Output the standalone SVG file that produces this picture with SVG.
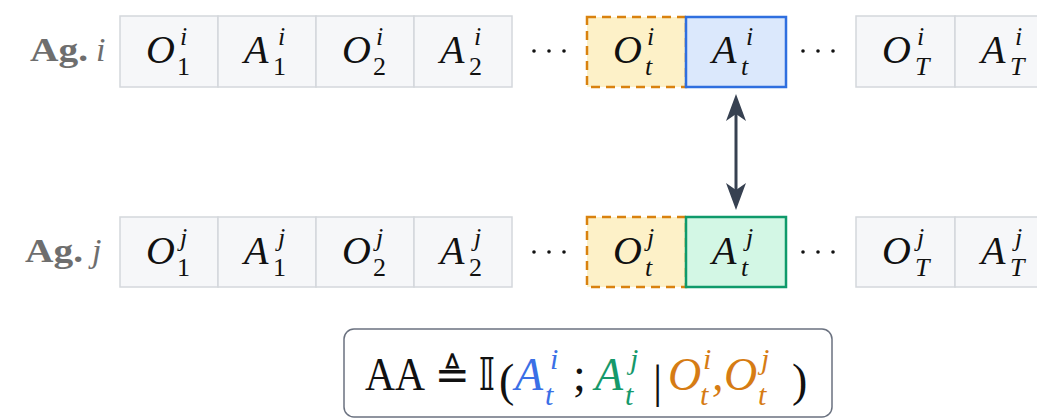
<svg xmlns="http://www.w3.org/2000/svg" width="1037" height="420" viewBox="0 0 1037 420">
<defs>
<style>
.cell{fill:#f6f7f9;stroke:#d4d7dc;stroke-width:1.5}
.obs{fill:#fdf1c8;stroke:#d9820f;stroke-width:2.5;stroke-dasharray:9 6}
.ai{fill:#dbe8fc;stroke:#2f6fdf;stroke-width:2.5}
.aj{fill:#d3f7e5;stroke:#0f9a6b;stroke-width:2.5}
.m{font-family:"Liberation Serif",serif;font-style:italic;font-size:40px;fill:#111}
.s{font-family:"Liberation Serif",serif;font-style:italic;font-size:26px;fill:#111}
.u{font-style:normal}
.lab{font-family:"Liberation Serif",serif;font-size:34px;fill:#6e6e6e}
.dot{fill:#111}
.f{font-family:"Liberation Serif",serif;font-size:46px;fill:#111}
.fi{font-family:"Liberation Serif",serif;font-style:italic;font-size:46px}
.fs{font-family:"Liberation Serif",serif;font-style:italic;font-size:30px}
.blue{fill:#3a6fe6}.green{fill:#16996b}.orange{fill:#d67c14}
.head{fill:#374151}
</style>
</defs>
<rect width="1037" height="420" fill="#ffffff"/>

<g id="label-i"><text class="lab" x="30" y="61" font-weight="bold" textLength="58" lengthAdjust="spacingAndGlyphs">Ag.</text><text class="lab" x="96" y="61" font-style="italic">i</text></g>
<g id="label-j"><text class="lab" x="25" y="262" font-weight="bold" textLength="58" lengthAdjust="spacingAndGlyphs">Ag.</text><text class="lab" x="92" y="262" font-style="italic">j</text></g>

<!-- Agent i row -->
<g id="i-O1"><rect class="cell" x="120" y="16" width="98" height="71"/><text class="m" x="146" y="63">O</text><text class="s" x="180" y="45">i</text><text class="s u" x="177" y="75">1</text></g>
<g id="i-A1"><rect class="cell" x="218" y="16" width="98" height="71"/><text class="m" x="244" y="63">A</text><text class="s" x="278" y="45">i</text><text class="s u" x="273" y="75">1</text></g>
<g id="i-O2"><rect class="cell" x="316" y="16" width="98" height="71"/><text class="m" x="342" y="63">O</text><text class="s" x="376" y="45">i</text><text class="s u" x="373" y="75">2</text></g>
<g id="i-A2"><rect class="cell" x="414" y="16" width="98" height="71"/><text class="m" x="440" y="63">A</text><text class="s" x="474" y="45">i</text><text class="s u" x="469" y="75">2</text></g>
<g id="i-dots1"><circle class="dot" cx="534" cy="51" r="1.8"/><circle class="dot" cx="549" cy="51" r="1.8"/><circle class="dot" cx="564" cy="51" r="1.8"/></g>
<g id="i-Ot"><rect class="obs" x="587" y="17" width="99" height="70"/><text class="m" x="613" y="63">O</text><text class="s" x="647" y="45">i</text><text class="s" x="645" y="75">t</text></g>
<g id="i-At"><rect class="ai" x="686" y="17" width="100" height="70"/><text class="m" x="712" y="63">A</text><text class="s" x="746" y="45">i</text><text class="s" x="741" y="75">t</text></g>
<g id="i-dots2"><circle class="dot" cx="803" cy="51" r="1.8"/><circle class="dot" cx="818" cy="51" r="1.8"/><circle class="dot" cx="833" cy="51" r="1.8"/></g>
<g id="i-OT"><rect class="cell" x="856" y="16" width="99" height="71"/><text class="m" x="882" y="63">O</text><text class="s" x="917" y="45">i</text><text class="s" x="915" y="75">T</text></g>
<g id="i-AT"><rect class="cell" x="955" y="16" width="99" height="71"/><text class="m" x="981" y="63">A</text><text class="s" x="1015" y="45">i</text><text class="s" x="1010" y="75">T</text></g>

<!-- Agent j row -->
<g id="j-O1"><rect class="cell" x="120" y="217" width="98" height="70"/><text class="m" x="146" y="264">O</text><text class="s" x="180" y="246">j</text><text class="s u" x="177" y="276">1</text></g>
<g id="j-A1"><rect class="cell" x="218" y="217" width="98" height="70"/><text class="m" x="244" y="264">A</text><text class="s" x="278" y="246">j</text><text class="s u" x="273" y="276">1</text></g>
<g id="j-O2"><rect class="cell" x="316" y="217" width="98" height="70"/><text class="m" x="342" y="264">O</text><text class="s" x="376" y="246">j</text><text class="s u" x="373" y="276">2</text></g>
<g id="j-A2"><rect class="cell" x="414" y="217" width="98" height="70"/><text class="m" x="440" y="264">A</text><text class="s" x="474" y="246">j</text><text class="s u" x="469" y="276">2</text></g>
<g id="j-dots1"><circle class="dot" cx="534" cy="252" r="1.8"/><circle class="dot" cx="549" cy="252" r="1.8"/><circle class="dot" cx="564" cy="252" r="1.8"/></g>
<g id="j-Ot"><rect class="obs" x="587" y="217" width="99" height="70"/><text class="m" x="613" y="264">O</text><text class="s" x="647" y="246">j</text><text class="s" x="645" y="276">t</text></g>
<g id="j-At"><rect class="aj" x="686" y="217" width="100" height="70"/><text class="m" x="712" y="264">A</text><text class="s" x="746" y="246">j</text><text class="s" x="741" y="276">t</text></g>
<g id="j-dots2"><circle class="dot" cx="803" cy="252" r="1.8"/><circle class="dot" cx="818" cy="252" r="1.8"/><circle class="dot" cx="833" cy="252" r="1.8"/></g>
<g id="j-OT"><rect class="cell" x="856" y="217" width="99" height="70"/><text class="m" x="882" y="264">O</text><text class="s" x="917" y="246">j</text><text class="s" x="915" y="276">T</text></g>
<g id="j-AT"><rect class="cell" x="955" y="217" width="99" height="70"/><text class="m" x="981" y="264">A</text><text class="s" x="1015" y="246">j</text><text class="s" x="1010" y="276">T</text></g>

<g id="connectors">
<line x1="736" y1="108" x2="736" y2="196" stroke="#374151" stroke-width="3"/>
<polygon class="head" points="736,94 746,121 736,114 726,121"/>
<polygon class="head" points="736,210 746,183 736,190 726,183"/>
</g>

<g id="formula">
<rect x="344" y="329" width="488" height="88" rx="10" fill="#ffffff" stroke="#6b7280" stroke-width="1.5"/>
<text class="f" x="365" y="390" textLength="60" lengthAdjust="spacingAndGlyphs">AA</text>
<text x="452" y="389" text-anchor="middle" font-family="DejaVu Sans,sans-serif" font-size="42" fill="#111">≜</text>
<text x="487" y="390" text-anchor="middle" font-family="DejaVu Sans,sans-serif" font-size="44" fill="#111">𝕀</text>
<text class="f" x="499" y="396" font-size="58">(</text>
<text class="fi blue" x="515" y="390">A</text><text class="fs blue" x="550" y="369">i</text><text class="fs blue" x="545" y="405">t</text>
<text class="f" x="573" y="390">;</text>
<text class="fi green" x="595" y="390">A</text><text class="fs green" x="630" y="369">j</text><text class="fs green" x="625" y="405">t</text>
<text class="f" x="653" y="397" font-size="58">|</text>
<text class="fi orange" x="668" y="390">O</text><text class="fs orange" x="703" y="369">i</text><text class="fs orange" x="700" y="405">t</text><text class="fi orange" x="712" y="390">,</text>
<text class="fi orange" x="724" y="390">O</text><text class="fs orange" x="761" y="369">j</text><text class="fs orange" x="758" y="405">t</text>
<text class="f" x="792" y="396" font-size="58">)</text>
</g>
</svg>
